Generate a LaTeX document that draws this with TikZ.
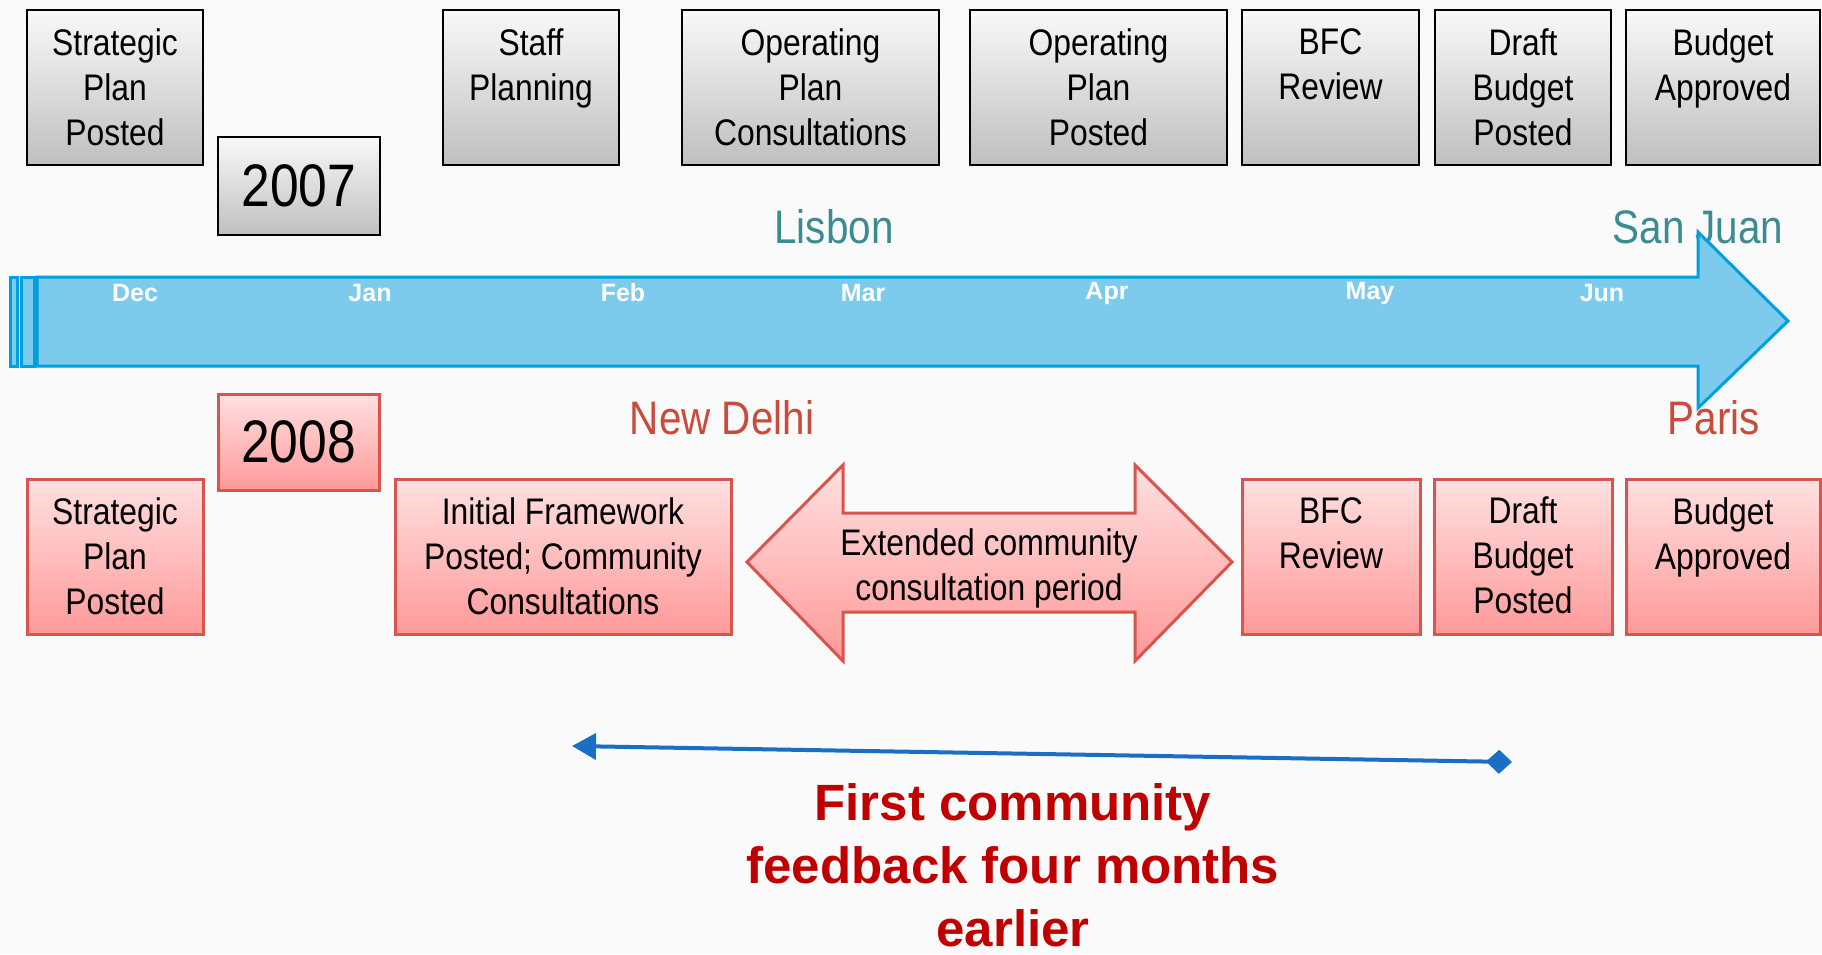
\documentclass[tikz,border=0pt]{standalone}
\usepackage{fontspec}
\setmainfont[FakeStretch=0.86]{Liberation Sans}
\newfontfamily\widefont{Liberation Sans}
\usepackage{tikz}
\usetikzlibrary{arrows.meta}

\definecolor{boxred}{HTML}{D9544C}
\definecolor{cityteal}{HTML}{3B8C91}
\definecolor{cityred}{HTML}{C84B3C}
\definecolor{tlblue}{HTML}{7CCBEC}
\definecolor{tledge}{HTML}{00A0DE}
\definecolor{fbblue}{HTML}{1A6FC4}
\definecolor{fbred}{HTML}{C00000}

\tikzset{
	gbox/.style={draw=black, line width=2.5pt, top color=gray!5, bottom color=gray!50, inner sep=0pt},
	rbox/.style={draw=boxred, line width=3pt, top color=red!12, bottom color=red!40, inner sep=0pt},
	btxt/.style={font=\fontsize{37}{45}\selectfont, align=center, inner sep=0pt, anchor=north},
	yeartxt/.style={font=\fontsize{60}{60}\selectfont},
	month/.style={font=\widefont\bfseries\fontsize{25}{25}\selectfont, text=white, inner sep=0pt},
	city/.style={font=\fontsize{47}{47}\selectfont, inner sep=0pt},
	tlarrow/.style={draw=tledge, line width=3pt, fill=tlblue, line join=miter},
	fbline/.style={draw=fbblue, line width=4pt, {Triangle[width=26pt,length=24pt]}-{Diamond[width=24pt,length=26pt]}},
}

\begin{document}
\begin{tikzpicture}[x=1pt, y=-1pt]
		\useasboundingbox (0,0) rectangle (1822,954);
		\fill[gray!4] (0,0) rectangle (1822,954);
		
		% 2007 row
		\node[gbox, minimum width=176pt, minimum height=155pt] (tspp) at (115,87.5) {};
		\node[gbox, yeartxt, minimum width=162pt, minimum height=98pt] (y2007) at (299,186) {2007};
		\node[gbox, minimum width=176pt, minimum height=155pt] (tstaff) at (531,87.5) {};
		\node[gbox, minimum width=257pt, minimum height=155pt] (topc) at (810.5,87.5) {};
		\node[gbox, minimum width=257pt, minimum height=155pt] (topp) at (1098.5,87.5) {};
		\node[gbox, minimum width=177pt, minimum height=155pt] (tbfc) at (1330.5,87.5) {};
		\node[gbox, minimum width=176pt, minimum height=155pt] (tdbp) at (1523,87.5) {};
		\node[gbox, minimum width=194pt, minimum height=155pt] (tba) at (1723,87.5) {};
		
		\node[btxt] (tsppT) at ([yshift=-19.5pt]tspp.north) {Strategic\\Plan\\Posted};
		\node[btxt] (tstaffT) at ([yshift=-19.5pt]tstaff.north) {Staff\\Planning};
		\node[btxt] (topcT) at ([yshift=-19.5pt]topc.north) {Operating\\Plan\\Consultations};
		\node[btxt] (toppT) at ([yshift=-19.5pt]topp.north) {Operating\\Plan\\Posted};
		\node[btxt] (tbfcT) at ([yshift=-19.5pt]tbfc.north) {BFC\\Review};
		\node[btxt] (tdbpT) at ([yshift=-19.5pt]tdbp.north) {Draft\\Budget\\Posted};
		\node[btxt] (tbaT) at ([yshift=-19.5pt]tba.north) {Budget\\Approved};
		
		\node[city, text=cityteal] (lisbon) at (834,227) {Lisbon};
		\node[city, text=cityteal] (sanjuan) at (1698,227) {San Juan};
		
		% timeline
		\draw[tlarrow] (10,277) rectangle (17,366);
		\draw[tlarrow] (21,277) rectangle (34,366);
		\draw[tlarrow] (37,277) -- (1698,277) -- (1698,232) -- (1788,321) -- (1698,408) -- (1698,366) -- (37,366) -- cycle;
		
		\node[month] (dec) at (135,293) {Dec};
		\node[month] (jan) at (370,293) {Jan};
		\node[month] (feb) at (623,293) {Feb};
		\node[month] (mar) at (863,293) {Mar};
		\node[month] (apr) at (1107,293) {Apr};
		\node[month] (may) at (1370,293) {May};
		\node[month] (jun) at (1602,293) {Jun};
		
		\node[city, text=cityred] (delhi) at (722,418) {New Delhi};
		\node[city, text=cityred] (paris) at (1714,418) {Paris};
		
		% 2008 row
		\node[rbox, yeartxt, minimum width=161pt, minimum height=96pt] (y2008) at (298.5,442) {2008};
		\node[rbox, minimum width=176pt, minimum height=155pt] (bspp) at (115,556.5) {};
		\node[rbox, minimum width=336pt, minimum height=155pt] (binit) at (563,556.5) {};
		\node[rbox, minimum width=178pt, minimum height=155pt] (bbfc) at (1331,556.5) {};
		\node[rbox, minimum width=178pt, minimum height=155pt] (bdbp) at (1523,556.5) {};
		\node[rbox, minimum width=194pt, minimum height=155pt] (bba) at (1723,556.5) {};
		
		\draw[rbox, line join=miter] (747,562) -- (843,465) -- (843,513) -- (1135,513) -- (1135,465) -- (1232,562) -- (1135,661) -- (1135,612) -- (843,612) -- (843,661) -- cycle;
		
		\node[btxt] (bsppT) at ([yshift=-19.5pt]bspp.north) {Strategic\\Plan\\Posted};
		\node[btxt] (binitT) at ([yshift=-19.5pt]binit.north) {Initial Framework\\Posted; Community\\Consultations};
		\node[btxt, anchor=center] (ext) at (989,568) {Extended community\\consultation period};
		\node[btxt] (bbfcT) at ([yshift=-19.5pt]bbfc.north) {BFC\\Review};
		\node[btxt] (bdbpT) at ([yshift=-19.5pt]bdbp.north) {Draft\\Budget\\Posted};
		\node[btxt] (bbaT) at ([yshift=-19.5pt]bba.north) {Budget\\Approved};
		
		% feedback
		\coordinate (fbL) at (572,746);
		\coordinate (fbR) at (1512,762);
		\draw[fbline] (fbL) -- (fbR);
		\node[font=\widefont\bfseries\fontsize{51}{63}\selectfont, text=fbred, align=center] (fbtxt) at (1013,865) {First community\\feedback four months\\earlier};
		
\end{tikzpicture}
\end{document}
